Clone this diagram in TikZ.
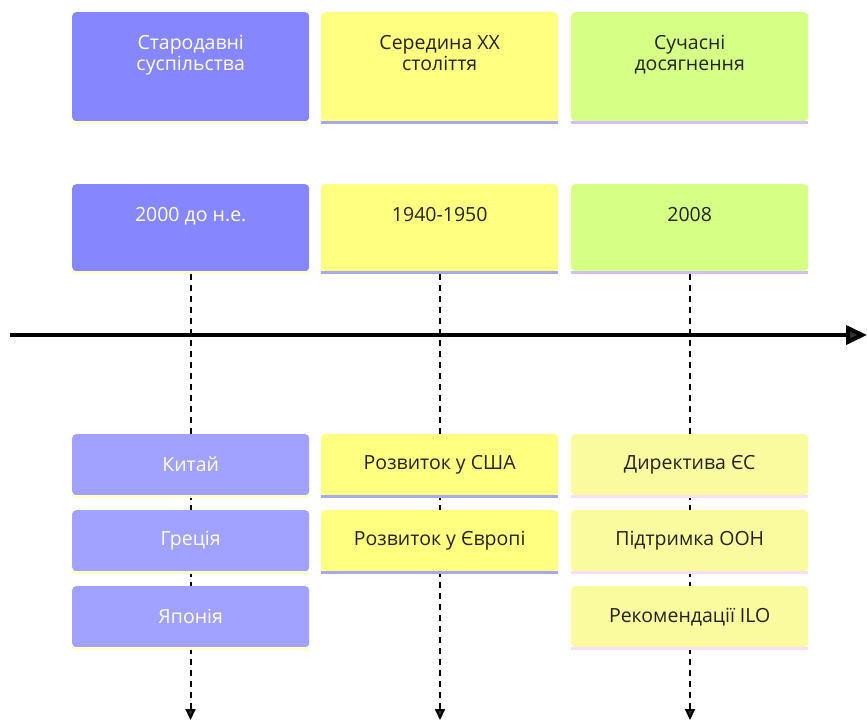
\documentclass[tikz,border=0pt]{standalone}
\usepackage{fontspec}
\setmainfont{Open Sans}
\usetikzlibrary{arrows.meta}
\definecolor{cA}{RGB}{134,134,255}
\definecolor{cAl}{RGB}{161,161,255}
\definecolor{cB}{RGB}{255,255,128}
\definecolor{cC}{RGB}{214,255,133}
\definecolor{cCl}{RGB}{250,250,158}
\definecolor{sA}{RGB}{255,255,200}
\definecolor{sB}{RGB}{168,168,240}
\definecolor{sC}{RGB}{212,190,255}
\definecolor{sCl}{RGB}{248,222,248}
\definecolor{txt}{RGB}{34,34,34}
\definecolor{tip}{RGB}{51,51,51}
\tikzset{
  box/.style={rectangle, rounded corners=4pt, minimum width=237pt, inner sep=0pt, anchor=north west},
  bigbox/.style={box, minimum height=109pt},
  midbox/.style={box, minimum height=87pt},
  smallbox/.style={box, minimum height=61pt, font=\fontsize{19.5}{21}\selectfont},
  lbl/.style={align=center, font=\fontsize{19.5}{21}\selectfont, anchor=north, inner sep=0pt},
  guide/.style={line width=2pt, dash pattern=on 6pt off 5pt, draw=black, -{Triangle[length=11pt,width=10pt,fill=tip]}},
  axis/.style={line width=4pt, draw=black, -{Triangle[length=21pt,width=19pt,fill=tip]}}
}
\begin{document}
\begin{tikzpicture}[x=1pt,y=-1pt]
\useasboundingbox (0,0) rectangle (867,725);
% guide coordinates
\coordinate (e1) at (190.5,720);
\coordinate (e2) at (440,720);
\coordinate (e3) at (690,720);
\coordinate (axS) at (10,335);
\coordinate (axE) at (867,335);
% dashed guides
\draw[guide] (190.5,274) coordinate (g1) -- (e1);
\draw[guide] (440,274) coordinate (g2) -- (e2);
\draw[guide] (690,274) coordinate (g3) -- (e3);
% axis
\draw[axis] (axS) -- (axE);
% top row
\node[bigbox, fill=cA] (t1) at (72,12) {};
\node[bigbox, fill=cB] (t2) at (321,12) {};
\node[bigbox, fill=cC] (t3) at (571,12) {};
\fill[sA] (t1.south west) rectangle ++(237,3);
\fill[sB] (t2.south west) rectangle ++(237,3);
\fill[sC] (t3.south west) rectangle ++(237,3);
\node[lbl, text=white] (l1) at ([yshift=-23pt]t1.north) {Стародавні\\суспільства};
\node[lbl, text=txt] (l2) at ([yshift=-23pt]t2.north) {Середина XX\\століття};
\node[lbl, text=txt] (l3) at ([yshift=-23pt]t3.north) {Сучасні\\досягнення};
% second row
\node[midbox, fill=cA] (m1) at (72,184) {};
\node[midbox, fill=cB] (m2) at (321,184) {};
\node[midbox, fill=cC] (m3) at (571,184) {};
\fill[sA] (m1.south west) rectangle ++(237,3);
\fill[sB] (m2.south west) rectangle ++(237,3);
\fill[sC] (m3.south west) rectangle ++(237,3);
\node[lbl, text=white] (d1) at ([yshift=-23pt]m1.north) {2000 до н.е.};
\node[lbl, text=txt] (d2) at ([yshift=-23pt]m2.north) {1940-1950};
\node[lbl, text=txt] (d3) at ([yshift=-23pt]m3.north) {2008};
% bottom column 1
\node[smallbox, fill=cAl, text=white] (a1) at (72,434) {Китай};
\node[smallbox, fill=cAl, text=white] (a2) at (72,510) {Греція};
\node[smallbox, fill=cAl, text=white] (a3) at (72,586) {Японія};
\fill[sA] (a1.south west) rectangle ++(237,3);
\fill[sA] (a2.south west) rectangle ++(237,3);
\fill[sA] (a3.south west) rectangle ++(237,3);
% bottom column 2
\node[smallbox, fill=cB, text=txt] (b1) at (321,434) {Розвиток у США};
\node[smallbox, fill=cB, text=txt] (b2) at (321,510) {Розвиток у Європі};
\fill[sB] (b1.south west) rectangle ++(237,3);
\fill[sB] (b2.south west) rectangle ++(237,3);
% bottom column 3
\node[smallbox, fill=cCl, text=txt] (c1) at (571,434) {Директива ЄС};
\node[smallbox, fill=cCl, text=txt] (c2) at (571,510) {Підтримка ООН};
\node[smallbox, fill=cCl, text=txt] (c3) at (571,586) {Рекомендації ILO};
\fill[sCl] (c1.south west) rectangle ++(237,3);
\fill[sCl] (c2.south west) rectangle ++(237,3);
\fill[sCl] (c3.south west) rectangle ++(237,3);
\end{tikzpicture}
\end{document}
